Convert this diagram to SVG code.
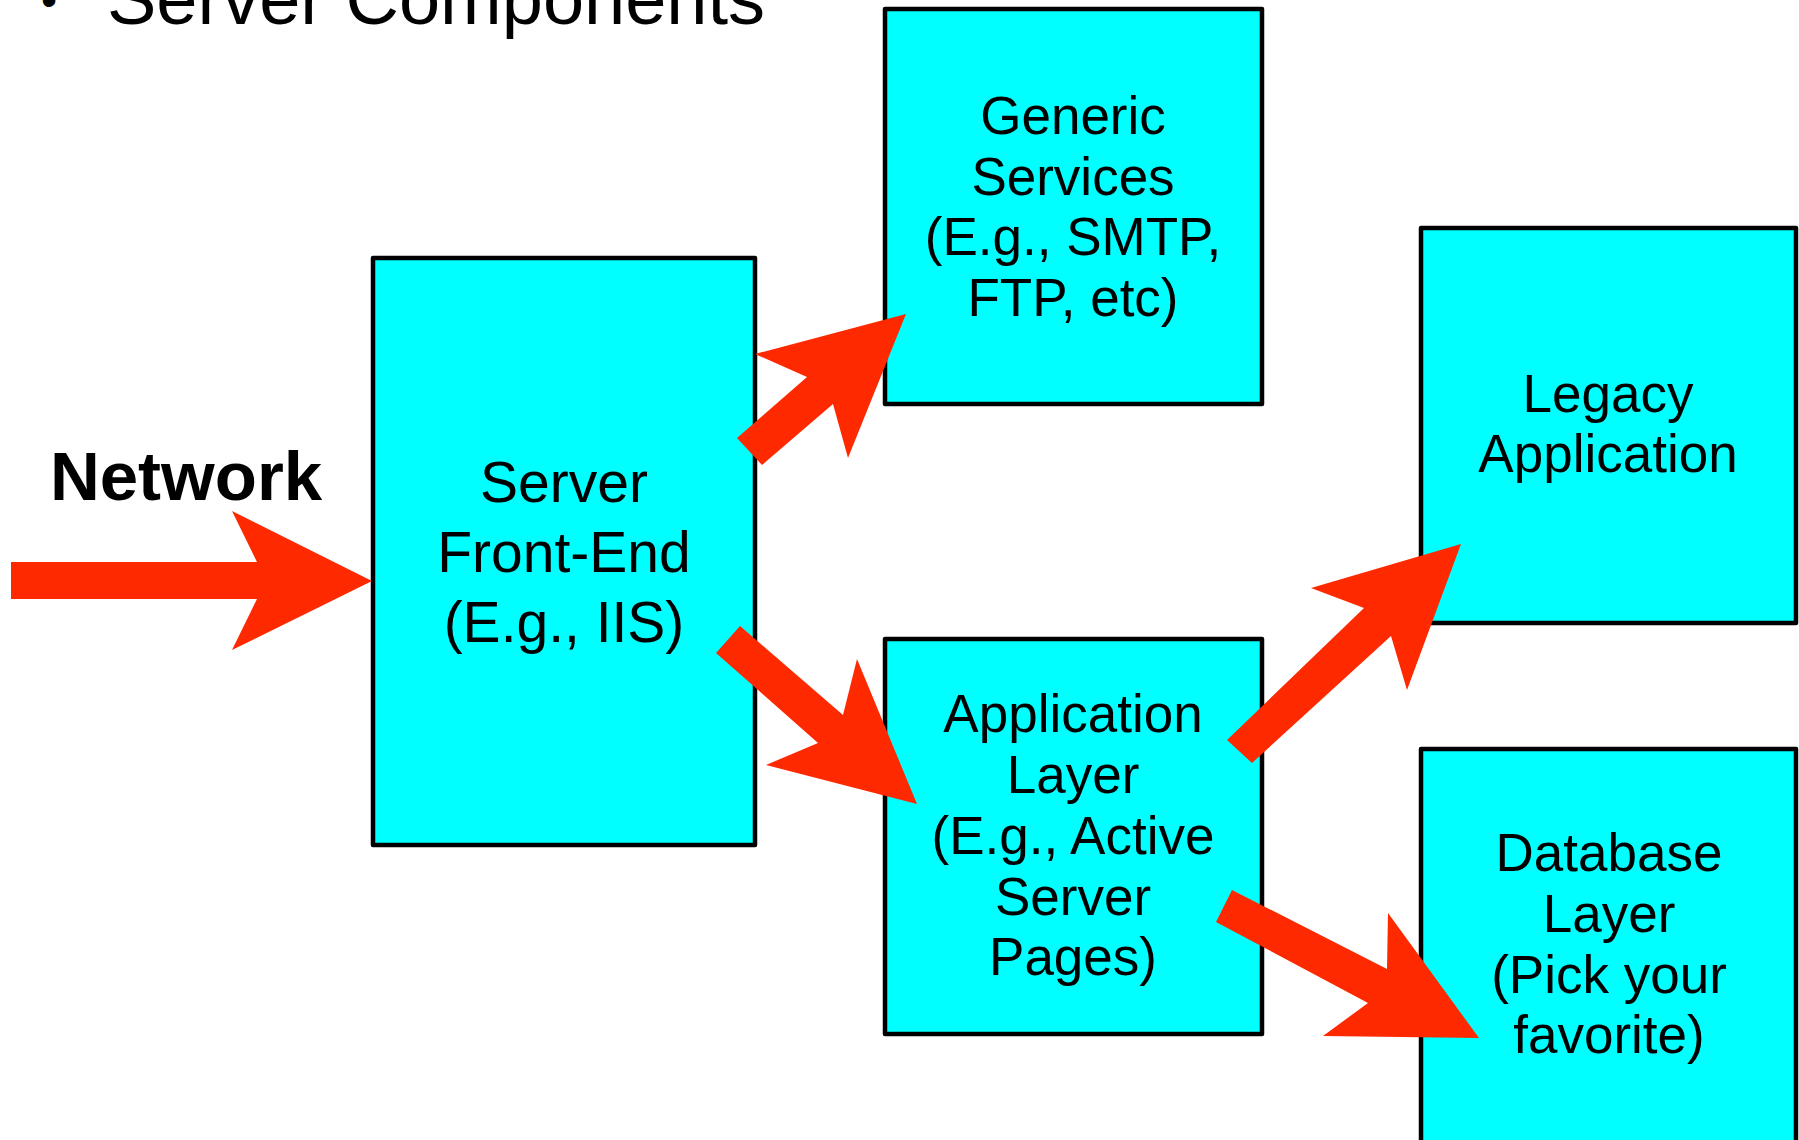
<svg xmlns="http://www.w3.org/2000/svg" width="1799" height="1140" viewBox="0 0 1799 1140">
<style>
.box{fill:#00FFFF;stroke:#000;stroke-width:4.5;stroke-linejoin:round}
.t{font-family:"Liberation Sans",Arial,sans-serif;fill:#000;text-anchor:middle}
.big{font-size:57px}
.med{font-size:53px}
.arr{fill:#FF2900;stroke:none}
</style>
<rect width="1799" height="1140" fill="#fff"/>
<g id="title">
<text x="49" y="16" font-family="Liberation Sans, Arial, sans-serif" font-size="46" text-anchor="middle">•</text>
<text x="107" y="24" font-family="Liberation Sans, Arial, sans-serif" font-size="74">Server Components</text>
</g>
<g id="network">
<text x="186" y="500" font-family="Liberation Sans, Arial, sans-serif" font-size="69" font-weight="bold" text-anchor="middle">Network</text>
</g>
<g id="frontend">
<rect class="box" x="373" y="258" width="382" height="587"/>
<text class="t big" x="564"><tspan x="564" y="502">Server</tspan><tspan x="564" y="572">Front-End</tspan><tspan x="564" y="642">(E.g., IIS)</tspan></text>
</g>
<g id="generic">
<rect class="box" x="885" y="9" width="377" height="395"/>
<text class="t med"><tspan x="1073" y="134">Generic</tspan><tspan x="1073" y="195">Services</tspan><tspan x="1073" y="255">(E.g., SMTP,</tspan><tspan x="1073" y="316">FTP, etc)</tspan></text>
</g>
<g id="legacy">
<rect class="box" x="1421" y="228" width="375" height="395"/>
<text class="t med"><tspan x="1608" y="412">Legacy</tspan><tspan x="1608" y="472">Application</tspan></text>
</g>
<g id="applayer">
<rect class="box" x="885" y="639" width="377" height="395"/>
<text class="t med"><tspan x="1073" y="732">Application</tspan><tspan x="1073" y="793">Layer</tspan><tspan x="1073" y="854">(E.g., Active</tspan><tspan x="1073" y="915">Server</tspan><tspan x="1073" y="975">Pages)</tspan></text>
</g>
<g id="database">
<rect class="box" x="1421" y="749" width="375" height="420"/>
<text class="t med"><tspan x="1609" y="871">Database</tspan><tspan x="1609" y="932">Layer</tspan><tspan x="1609" y="993">(Pick your</tspan><tspan x="1609" y="1053">favorite)</tspan></text>
</g>
<g id="connectors">
<polygon class="arr" points="11,562 257,562 232,511 372,581 232,650 257,599 11,599"/>
<polygon class="arr" points="737,438 807,377 755,354 906,314 848,458 833,404 762,465"/>
<polygon class="arr" points="740,626 843,715 857,659 917,804 766,765 818,743 716,653"/>
<polygon class="arr" points="1227,740 1364,608 1311,588 1461,544 1407,690 1391,636 1252,763"/>
<polygon class="arr" points="1232,890 1387,969 1388,913 1479,1038 1323,1036 1368,1003 1216,922"/>
</g>
</svg>
